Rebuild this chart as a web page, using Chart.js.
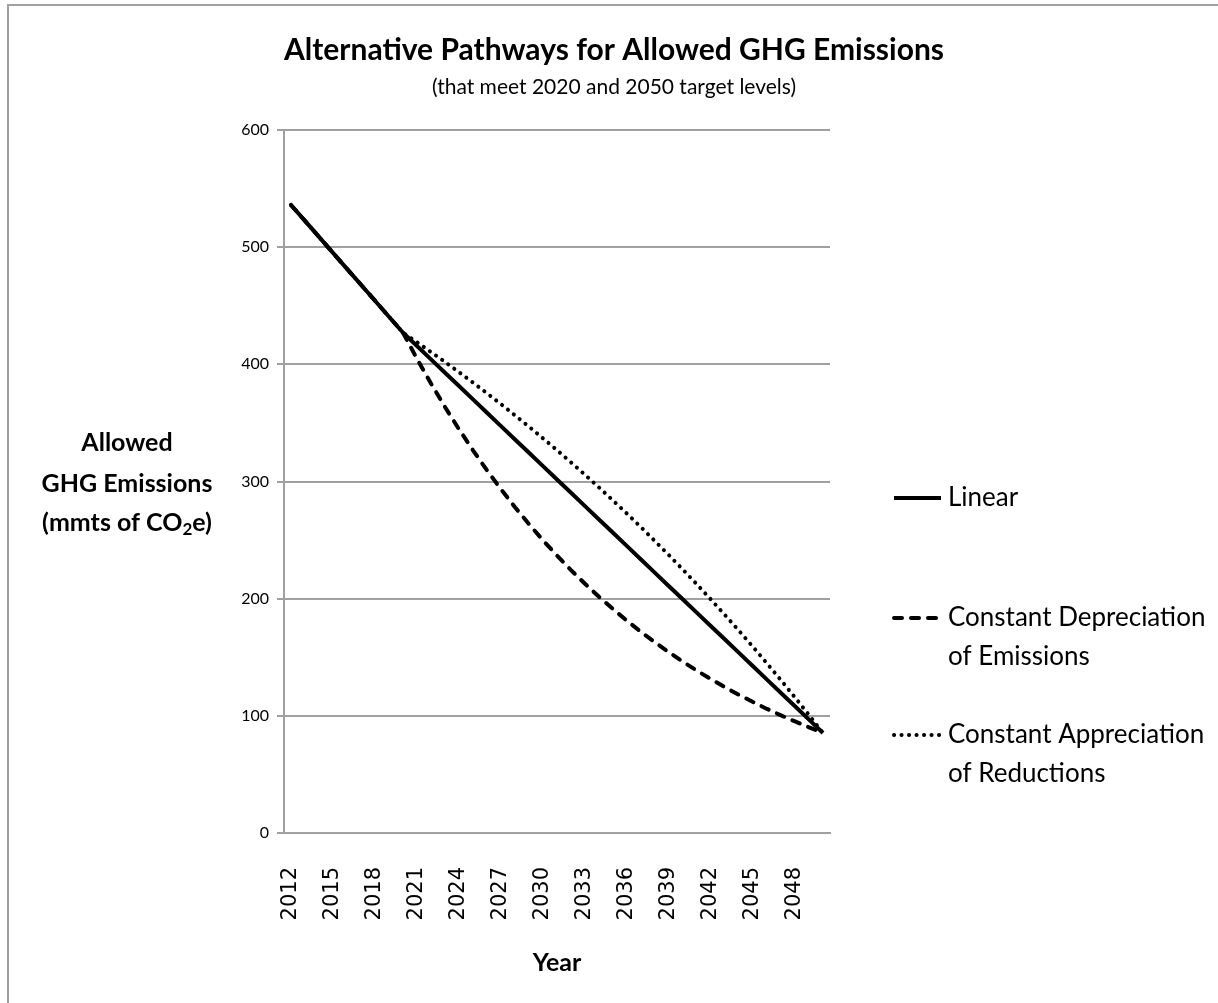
<!DOCTYPE html>
<html>
<head>
<meta charset="utf-8">
<script src="https://cdn.jsdelivr.net/npm/chart.js@4.4.1/dist/chart.umd.min.js"></script>
<style>
  html, body { margin: 0; padding: 0; background: #fff; }
  #wrap { position: relative; width: 1218px; height: 1003px; overflow: hidden; }
  #frame { position: absolute; left: 7px; top: 4px; right: -4px; bottom: -4px; border-left: 2px solid #a0a0a0; border-top: 2px solid #a0a0a0; }
  canvas { position: absolute; left: 0; top: 0; }
</style>
</head>
<body>
<div id="wrap"><div id="frame"></div><canvas id="chart" width="1218" height="1003"></canvas></div>
<script>
const years = [
  '2012', '2013', '2014', '2015', '2016', '2017', '2018', '2019', '2020', '2021',
  '2022', '2023', '2024', '2025', '2026', '2027', '2028', '2029', '2030', '2031',
  '2032', '2033', '2034', '2035', '2036', '2037', '2038', '2039', '2040', '2041',
  '2042', '2043', '2044', '2045', '2046', '2047', '2048', '2049', '2050'
];

// allowed emissions, mmts of CO2e
const linear = [
  536, 522.4, 508.8, 495.1, 481.5, 467.9, 454.3, 440.6, 427, 415.6,
  404.2, 392.8, 381.5, 370.1, 358.7, 347.3, 335.9, 324.5, 313.1, 301.7,
  290.4, 279.0, 267.6, 256.2, 244.8, 233.4, 222.0, 210.6, 199.3, 187.9,
  176.5, 165.1, 153.7, 142.3, 130.9, 119.5, 108.2, 96.8, 85.4
];
const depreciation = [
  536, 522.4, 508.8, 495.1, 481.5, 467.9, 454.3, 440.6, 427, 404.7,
  383.6, 363.6, 344.6, 326.6, 309.5, 293.4, 278.1, 263.6, 249.8, 236.8,
  224.4, 212.7, 201.6, 191.1, 181.1, 171.6, 162.7, 154.2, 146.1, 138.5,
  131.3, 124.4, 117.9, 111.8, 105.9, 100.4, 95.2, 90.2, 85.5
];
const appreciation = [
  536, 522.4, 508.8, 495.1, 481.5, 467.9, 454.3, 440.6, 427, 418.8,
  410.5, 402.0, 393.3, 384.4, 375.3, 366.0, 356.5, 346.8, 336.8, 326.7,
  316.3, 305.7, 294.9, 283.8, 272.5, 261.0, 249.1, 237.1, 224.7, 212.1,
  199.2, 186.0, 172.6, 158.8, 144.7, 130.4, 115.7, 100.7, 85.3
];

const seriesNames = [
  ['Linear'],
  ['Constant Depreciation', 'of Emissions'],
  ['Constant Appreciation', 'of Reductions']
];
const legendRows = [498, 618, 735];

const titleText = 'Alternative Pathways for Allowed GHG Emissions';
const subtitleText = '(that meet 2020 and 2050 target levels)';

const decor = {
  id: 'decor',
  afterDraw(chart) {
    const ctx = chart.ctx;
    const area = chart.chartArea;
    ctx.save();
    ctx.fillStyle = '#000';
    ctx.textAlign = 'center';
    ctx.textBaseline = 'middle';

    ctx.font = 'bold 30px Lato';
    ctx.fillText(titleText, 614, 50);
    ctx.font = '21px Lato';
    ctx.fillText(subtitleText, 614, 87);

    // y axis title, horizontal, three lines
    const yx = 127;
    ctx.font = 'bold 25px Lato';
    ctx.fillText('Allowed', yx, 443);
    ctx.fillText('GHG Emissions', yx, 484);
    const p1 = '(mmts of CO', p2 = '2', p3 = 'e)';
    const w1 = ctx.measureText(p1).width;
    const w3 = ctx.measureText(p3).width;
    ctx.font = 'bold 17px Lato';
    const w2 = ctx.measureText(p2).width;
    let x0 = yx - (w1 + w2 + w3) / 2;
    ctx.textAlign = 'left';
    ctx.font = 'bold 25px Lato';
    ctx.fillText(p1, x0, 523);
    ctx.font = 'bold 17px Lato';
    ctx.fillText(p2, x0 + w1, 530);
    ctx.font = 'bold 25px Lato';
    ctx.fillText(p3, x0 + w1 + w2, 523);

    // x axis title
    ctx.textAlign = 'center';
    ctx.fillText('Year', (area.left + area.right) / 2, 963);

    // legend
    chart.data.datasets.forEach((ds, i) => {
      const y = legendRows[i];
      ctx.save();
      ctx.strokeStyle = ds.borderColor;
      ctx.lineWidth = ds.borderWidth;
      ctx.lineCap = ds.borderCapStyle || 'butt';
      ctx.setLineDash(ds.borderDash || []);
      ctx.beginPath();
      ctx.moveTo(894, y);
      ctx.lineTo(941, y);
      ctx.stroke();
      ctx.restore();
      ctx.textAlign = 'left';
      ctx.font = '26px Lato';
      seriesNames[i].forEach((line, j) => {
        ctx.fillText(line, 948, y + j * 39);
      });
    });
    ctx.restore();
  }
};

new Chart(document.getElementById('chart'), {
  type: 'line',
  data: {
    labels: years,
    datasets: [
      { label: seriesNames[0].join(' '), data: linear, borderColor: '#000', borderWidth: 4 },
      { label: seriesNames[1].join(' '), data: depreciation, borderColor: '#000', borderWidth: 4,
        borderDash: [8, 9], borderCapStyle: 'round' },
      { label: seriesNames[2].join(' '), data: appreciation, borderColor: '#000', borderWidth: 4,
        borderDash: [0.1, 7.4], borderCapStyle: 'round' }
    ]
  },
  options: {
    responsive: false,
    animation: false,
    layout: { padding: { left: 224, right: 388, top: 130, bottom: 0 } },
    elements: { point: { radius: 0 }, line: { tension: 0 } },
    plugins: { legend: { display: false }, tooltip: { enabled: false } },
    scales: {
      x: {
        offset: true,
        grid: { display: false, drawTicks: false },
        border: { display: true, color: '#a0a0a0', width: 2 },
        ticks: {
          autoSkip: false, minRotation: 90, maxRotation: 90, padding: 34,
          color: '#000', font: { family: 'DejaVu Sans', size: 21 },
          callback: (v, i) => (i % 3 === 0 ? years[i] : '')
        },
        afterFit: (s) => { s.height = 170; }
      },
      y: {
        min: 0, max: 600,
        ticks: { stepSize: 100, padding: 8, color: '#000', font: { family: 'Lato', size: 16 } },
        grid: { color: '#a0a0a0', lineWidth: 2, tickLength: 7 },
        border: { color: '#a0a0a0', width: 2 },
        afterFit: (s) => { s.width = 60; }
      }
    }
  },
  plugins: [decor]
});
</script>
</body>
</html>
